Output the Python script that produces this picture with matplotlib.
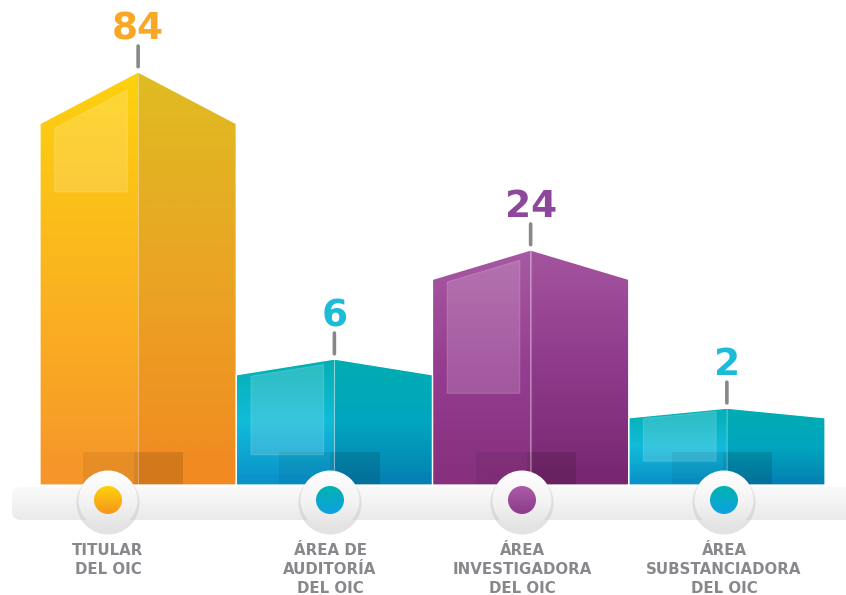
import numpy as np
import matplotlib
matplotlib.use('Agg')
import matplotlib.pyplot as plt
import matplotlib.transforms as mtransforms
from matplotlib.patches import Polygon, Circle, FancyBboxPatch, Rectangle
from matplotlib.colors import LinearSegmentedColormap

# data
categories = ['TITULAR\nDEL OIC',
              'ÁREA DE\nAUDITORÍA\nDEL OIC',
              'ÁREA\nINVESTIGADORA\nDEL OIC',
              'ÁREA\nSUBSTANCIADORA\nDEL OIC']
values = [84, 6, 24, 2]
value_colors = ['#f8a825', '#1cbcd9', '#8d489b', '#1cbcd9']

# styles
left_stops = [['#fdd20d', '#fbb520', '#f6962a'],
              ['#03afb3', '#12bbd8', '#0a92c9'],
              ['#a85aa3', '#953d90', '#86307e'],
              ['#03afb3', '#12bbd8', '#0a92c9']]
right_stops = [['#dfbc22', '#eaa424', '#f18a21'],
               ['#00adb1', '#01a6be', '#0580b2'],
               ['#a4559f', '#8f3a8b', '#772770'],
               ['#00adb1', '#01a6be', '#0580b2']]
dot_stops = [['#fdd20a', '#f7941d'],
             ['#00b3b0', '#10a0e0'],
             ['#ab5ca7', '#8d3b89'],
             ['#00b3b0', '#10a0e0']]
panel_bottom = [0.71, 0.24, 0.39, 0.31]
label_x = [108, 330, 522, 724]
gray = '#88888c'

P = 0.45       # power used for the bar height scale
ROOF = 0.875   # shoulder height as share of the peak (scaled space)


def fwd(v):
    return np.power(np.clip(v, 0, None), P)


def inv(u):
    return np.power(np.clip(u, 0, None), 1 / P)


def yat(frac, v):
    # value whose scaled height is frac of the scaled height of v
    return v * frac ** (1 / P)


def shade(ax, patch, stops, extent, warp=None):
    n = 300
    k = np.linspace(0, 1, n)
    t = k if warp is None else 1 - k ** warp
    cmap = LinearSegmentedColormap.from_list('g', stops)
    im = ax.imshow(t.reshape(-1, 1), cmap=cmap, vmin=0, vmax=1, extent=extent,
                   origin='lower', aspect='auto', interpolation='bilinear',
                   zorder=patch.get_zorder())
    im.set_clip_path(patch)
    return im


fig = plt.figure(figsize=(8.46, 5.95), dpi=100)

# bars; axes height chosen so that 84 peaks near y=71 px
axh = 413 / (0.84 ** P)
ax = fig.add_axes([40 / 846, 110 / 595, 785 / 846, axh / 595])
ax.set_yscale('function', functions=(fwd, inv))
ax.axis('off')
blend = mtransforms.blended_transform_factory(ax.transData, ax.transAxes)
foot = 33 / axh

for i, v in enumerate(values):
    c = i
    s = yat(ROOF, v)
    lf = Polygon([(c - 0.5, 0), (c - 0.5, s), (c, v), (c, 0)], closed=True,
                 facecolor='none', edgecolor='none', zorder=2)
    rf = Polygon([(c, 0), (c, v), (c + 0.5, s), (c + 0.5, 0)], closed=True,
                 facecolor='none', edgecolor='none', zorder=2)
    ax.add_patch(lf)
    ax.add_patch(rf)
    shade(ax, lf, left_stops[i], (c - 0.5, c, 0, v), warp=P)
    shade(ax, rf, right_stops[i], (c, c + 0.5, 0, v), warp=P)

    # lighter glass panel on the left face
    u0, u1 = 0.075, 0.445
    r0 = ROOF + (1 - ROOF) * u0 / 0.5 - 0.03
    r1 = ROOF + (1 - ROOF) * u1 / 0.5 - 0.03
    pb = panel_bottom[i]
    ax.add_patch(Polygon([(c - 0.5 + u0, yat(pb, v)), (c - 0.5 + u0, yat(r0, v)),
                          (c - 0.5 + u1, yat(r1, v)), (c - 0.5 + u1, yat(pb, v))],
                         closed=True, facecolor='white', alpha=0.16,
                         edgecolor='white', lw=0.8, zorder=3))
    # darker blocks at the foot
    ax.add_patch(Rectangle((c - 0.28, 0), 0.26, foot, transform=blend,
                           facecolor='black', alpha=0.06, lw=0, zorder=3))
    ax.add_patch(Rectangle((c - 0.02, 0), 0.25, foot, transform=blend,
                           facecolor='black', alpha=0.12, lw=0, zorder=3))
    ax.plot([c, c], [0, v], color='white', alpha=0.25, lw=0.8, zorder=3)
    ax.add_patch(Polygon([(c - 0.5, 0), (c - 0.5, s), (c, v), (c + 0.5, s), (c + 0.5, 0)],
                         closed=True, fill=False, edgecolor='white', lw=0.9,
                         joinstyle='round', zorder=4))

    # value tick and number
    ax.annotate('', xy=(c, v), xytext=(0, 26), textcoords='offset pixels',
                arrowprops=dict(arrowstyle='-', color=gray, lw=2.6,
                                shrinkA=0, shrinkB=3.8), annotation_clip=False)
    ax.annotate(str(v), xy=(c, v), xytext=(0, 33), textcoords='offset pixels',
                ha='center', va='baseline', fontsize=27, fontweight='bold',
                color=value_colors[i], annotation_clip=False)

ax.set_xlim(-0.5, 3.5)
ax.set_ylim(0, 100)

# base strip, dots and labels in pixel space
ov = fig.add_axes([0, 0, 1, 1])
ov.patch.set_alpha(0)
ov.axis('off')

shadow = FancyBboxPatch((12, 489), 850, 31, boxstyle='round,pad=0,rounding_size=9',
                        facecolor='#dcdcdc', edgecolor='none', alpha=0.6, zorder=1)
ov.add_patch(shadow)
band = FancyBboxPatch((12, 487), 850, 31, boxstyle='round,pad=0,rounding_size=9',
                      facecolor='none', edgecolor='none', zorder=2)
ov.add_patch(band)
shade(ov, band, ['#fafafa', '#f3f3f3', '#ebebeb'], (12, 862, 487, 518))

for i, cx in enumerate(label_x):
    ov.add_patch(Circle((cx, 503), 31.5, facecolor='#c8c8c8', alpha=0.5,
                        edgecolor='none', zorder=3))
    outer = Circle((cx, 500), 29.5, facecolor='none', edgecolor='none', zorder=4)
    ov.add_patch(outer)
    shade(ov, outer, ['#ffffff', '#f4f4f4', '#e2e2e2'], (cx - 30, cx + 30, 470, 530))
    dot = Circle((cx, 500), 14, facecolor='none', edgecolor='none', zorder=5)
    ov.add_patch(dot)
    shade(ov, dot, dot_stops[i], (cx - 14, cx + 14, 486, 514))

    for k, line in enumerate(categories[i].split('\n')):
        ov.text(cx, 555 + 19 * k, line, ha='center', va='baseline',
                fontsize=10.8, fontweight='bold', color=gray, zorder=6)

ov.set_xlim(0, 846)
ov.set_ylim(595, 0)

fig.savefig('out.png', dpi=100, facecolor='white')
